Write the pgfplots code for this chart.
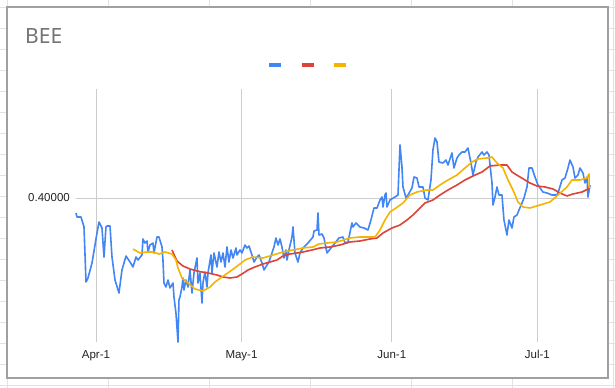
\documentclass[border=0pt]{standalone}
\usepackage{fontspec}
\setmainfont{Liberation Sans}
\newfontfamily\titlefont{Noto Sans}
\usepackage{pgfplots}
\pgfplotsset{compat=1.18}
\definecolor{gblue}{HTML}{4285F4}
\definecolor{gred}{HTML}{DB4437}
\definecolor{gyellow}{HTML}{F4B400}
\definecolor{sheetgrid}{HTML}{E2E2E2}
\definecolor{gridc}{HTML}{CCCCCC}
\definecolor{framec}{HTML}{A0A0A0}
\definecolor{titlec}{HTML}{757575}
\definecolor{labelc}{HTML}{222222}
\begin{document}
\begin{tikzpicture}[x=1bp,y=1bp]
\path[use as bounding box] (0bp,0bp) rectangle (615bp,388bp);
\fill[white] (0bp,0bp) rectangle (615bp,388bp);
\foreach \xx in {7,108,209,310,411,512,613} {\draw[sheetgrid, line width=0.8bp] (\xx bp,0bp) -- (\xx bp,388bp);}
\foreach \k in {0,...,18} {\draw[sheetgrid, line width=0.8bp] (0bp,{(381-21*\k)*1bp}) -- (615bp,{(381-21*\k)*1bp});}
\draw[framec, line width=1.3bp, fill=white] (7bp,10bp) rectangle (608bp,381bp);
\node[anchor=base west, inner sep=0pt, text=titlec, font=\titlefont\fontsize{21bp}{24bp}\selectfont] at (25bp,344.7bp) {BEE};
\begin{axis}[
  at={(76bp,46bp)}, anchor=south west, scale only axis,
  width=514bp, height=253bp,
  xmin=-4.12, xmax=101.86, ymin=0.256, ymax=0.509,
  xtick={0,30,61,91}, xticklabels={Apr-1,May-1,Jun-1,Jul-1},
  ytick={0.4}, yticklabels={0.40000},
  axis line style={draw=none}, major tick length=0pt,
  grid=major, major grid style={draw=gridc, line width=0.8bp},
  tick label style={font=\fontsize{11.5bp}{13bp}\selectfont, text=labelc},
  x tick label style={anchor=north, inner sep=0pt, yshift=-8bp},
  y tick label style={anchor=east, inner sep=0pt, xshift=-6bp},
  clip=false,
  every axis plot/.append style={line width=1.6bp, line join=round, mark=none},
  legend style={draw=none, fill=none, at={(rel axis cs:0.4514,1.0949)}, anchor=center,
    legend columns=3, inner sep=0pt, outer sep=0pt,
    /tikz/every even column/.append style={column sep=16bp},
    nodes={inner sep=0pt, outer sep=0pt}},
  legend image code/.code={\draw[#1, line width=3.5bp, line cap=butt] (0bp,0bp) -- (12bp,0bp);},
]
\addplot[gblue] coordinates {
(-4.12,0.385) (-3.92,0.381) (-3.09,0.381) (-2.47,0.371) (-2.06,0.316) (-1.65,0.320)
(-0.82,0.335) (0.21,0.365) (0.62,0.376) (1.24,0.370) (1.65,0.341) (2.06,0.371)
(2.27,0.372) (2.89,0.372) (3.30,0.341) (3.92,0.318) (4.74,0.305) (5.36,0.328)
(6.19,0.342) (7.01,0.336) (7.63,0.331) (8.25,0.341) (8.66,0.338) (9.48,0.343)
(9.69,0.359) (10.10,0.355) (10.52,0.357) (10.72,0.346) (11.13,0.353) (11.75,0.355)
(11.96,0.345) (12.58,0.361) (12.99,0.361) (13.61,0.351) (13.81,0.338) (14.02,0.315)
(14.43,0.311) (14.85,0.318) (15.26,0.310) (15.88,0.315) (16.08,0.301) (16.49,0.285)
(16.91,0.256) (17.11,0.298) (17.32,0.301) (17.73,0.311) (17.94,0.320) (18.14,0.308)
(18.56,0.318) (18.97,0.311) (19.38,0.328) (19.79,0.305) (20.21,0.325) (20.82,0.340)
(21.03,0.315) (21.44,0.325) (21.86,0.295) (22.06,0.315) (22.47,0.326) (22.89,0.311)
(23.09,0.325) (23.71,0.343) (23.92,0.325) (24.33,0.345) (24.95,0.331) (25.36,0.346)
(25.77,0.336) (26.19,0.345) (26.60,0.331) (27.01,0.351) (27.42,0.336) (27.84,0.348)
(28.25,0.340) (28.87,0.350) (29.07,0.343) (29.69,0.348) (30.10,0.345) (30.72,0.353)
(31.13,0.350) (31.55,0.352) (32.16,0.343) (32.58,0.336) (33.20,0.341) (33.61,0.343)
(34.23,0.335) (34.64,0.328) (35.26,0.333) (35.67,0.336) (36.29,0.345) (36.70,0.351)
(37.11,0.360) (37.53,0.353) (37.94,0.359) (38.35,0.351) (38.76,0.340) (39.18,0.348)
(39.38,0.338) (39.79,0.348) (40.41,0.361) (40.62,0.371) (41.03,0.345) (41.65,0.336)
(42.06,0.345) (42.68,0.350) (43.71,0.355) (44.74,0.361) (44.95,0.367) (45.57,0.368)
(45.77,0.385) (45.98,0.363) (46.60,0.364) (47.01,0.360) (47.63,0.345) (48.45,0.350)
(49.28,0.355) (50.10,0.360) (50.93,0.361) (51.34,0.355) (51.96,0.356) (52.78,0.375)
(52.99,0.371) (53.61,0.375) (54.43,0.371) (55.26,0.370) (56.08,0.368) (56.70,0.378)
(57.32,0.390) (57.94,0.390) (58.56,0.398) (58.97,0.401) (59.18,0.391) (59.59,0.403)
(59.79,0.405) (60.00,0.391) (60.62,0.398) (61.65,0.401) (62.27,0.403) (62.68,0.453)
(63.09,0.431) (63.30,0.411) (63.92,0.400) (64.33,0.403) (65.15,0.410) (65.57,0.421)
(66.19,0.420) (66.60,0.411) (67.42,0.411) (67.84,0.400) (68.45,0.398) (69.07,0.418)
(69.48,0.448) (69.90,0.460) (70.31,0.456) (70.72,0.436) (71.55,0.435) (72.16,0.438)
(72.58,0.433) (73.40,0.445) (73.81,0.430) (74.43,0.440) (74.85,0.443) (75.46,0.446)
(76.08,0.446) (76.70,0.450) (77.32,0.435) (77.73,0.423) (78.35,0.436) (78.76,0.441)
(79.59,0.446) (80.00,0.443) (80.62,0.446) (81.03,0.443) (81.65,0.415) (81.86,0.393)
(82.27,0.401) (82.68,0.411) (83.09,0.403) (83.71,0.403) (84.12,0.378) (84.74,0.363)
(85.15,0.378) (85.77,0.370) (86.19,0.381) (86.80,0.383) (87.22,0.388) (87.84,0.395)
(88.25,0.400) (88.87,0.411) (89.28,0.430) (89.90,0.430) (90.52,0.421) (91.13,0.413)
(92.16,0.406) (92.99,0.405) (94.02,0.403) (95.05,0.403) (95.46,0.408) (96.08,0.418)
(96.70,0.420) (97.32,0.430) (97.73,0.438) (98.35,0.431) (98.76,0.420) (99.38,0.423)
(99.79,0.430) (100.41,0.425) (100.82,0.415) (101.24,0.421) (101.44,0.401) (101.86,0.413)
};
\addlegendentry{\hbox{}}
\addplot[gred] coordinates {
(15.67,0.348) (16.70,0.337) (17.94,0.332) (19.38,0.329) (20.82,0.327) (21.86,0.326)
(23.09,0.325) (24.95,0.323) (26.19,0.321) (27.63,0.320) (29.07,0.321) (30.10,0.324)
(31.34,0.328) (32.78,0.331) (34.43,0.334) (35.88,0.336) (37.32,0.338) (38.56,0.342)
(40.00,0.344) (41.44,0.345) (42.68,0.346) (44.54,0.348) (46.19,0.350) (48.25,0.351)
(50.31,0.353) (52.37,0.356) (54.43,0.357) (56.49,0.359) (57.94,0.360) (59.18,0.365)
(61.03,0.370) (62.68,0.373) (64.12,0.378) (65.36,0.383) (66.39,0.388) (67.84,0.395)
(69.48,0.398) (70.93,0.403) (72.58,0.408) (74.43,0.413) (76.08,0.418) (77.73,0.422)
(79.59,0.426) (81.24,0.432) (83.30,0.433) (84.74,0.433) (85.77,0.426) (87.42,0.421)
(89.48,0.415) (90.93,0.412) (92.58,0.411) (94.23,0.409) (95.67,0.405) (97.11,0.402)
(98.35,0.404) (100.21,0.406) (101.44,0.409) (101.65,0.412)
};
\addlegendentry{\hbox{}}
\addplot[gyellow] coordinates {
(7.63,0.349) (9.07,0.345) (10.52,0.346) (11.75,0.346) (12.99,0.344) (14.23,0.346)
(15.67,0.344) (16.49,0.338) (16.91,0.330) (17.73,0.320) (18.97,0.315) (20.41,0.309)
(22.06,0.307) (23.51,0.311) (24.54,0.316) (25.98,0.321) (28.04,0.328) (29.69,0.334)
(30.72,0.338) (32.37,0.341) (34.43,0.340) (36.49,0.343) (38.56,0.346) (40.62,0.348)
(42.68,0.350) (44.74,0.351) (45.98,0.354) (47.63,0.355) (49.69,0.356) (52.37,0.360)
(54.43,0.361) (57.53,0.361) (58.56,0.368) (59.59,0.378) (60.62,0.386) (61.86,0.390)
(63.30,0.395) (64.74,0.403) (66.19,0.406) (68.25,0.408) (69.48,0.408) (70.93,0.413)
(72.58,0.418) (74.43,0.423) (76.08,0.430) (77.53,0.436) (78.76,0.439) (80.62,0.440)
(81.65,0.441) (82.68,0.435) (83.92,0.430) (84.95,0.418) (85.98,0.408) (87.01,0.396)
(88.04,0.391) (89.48,0.390) (91.55,0.393) (93.61,0.396) (95.26,0.403) (97.11,0.411)
(98.14,0.418) (99.79,0.418) (101.24,0.420) (101.65,0.424) (101.70,0.410)
};
\addlegendentry{\hbox{}}
\end{axis}
\end{tikzpicture}
\end{document}
